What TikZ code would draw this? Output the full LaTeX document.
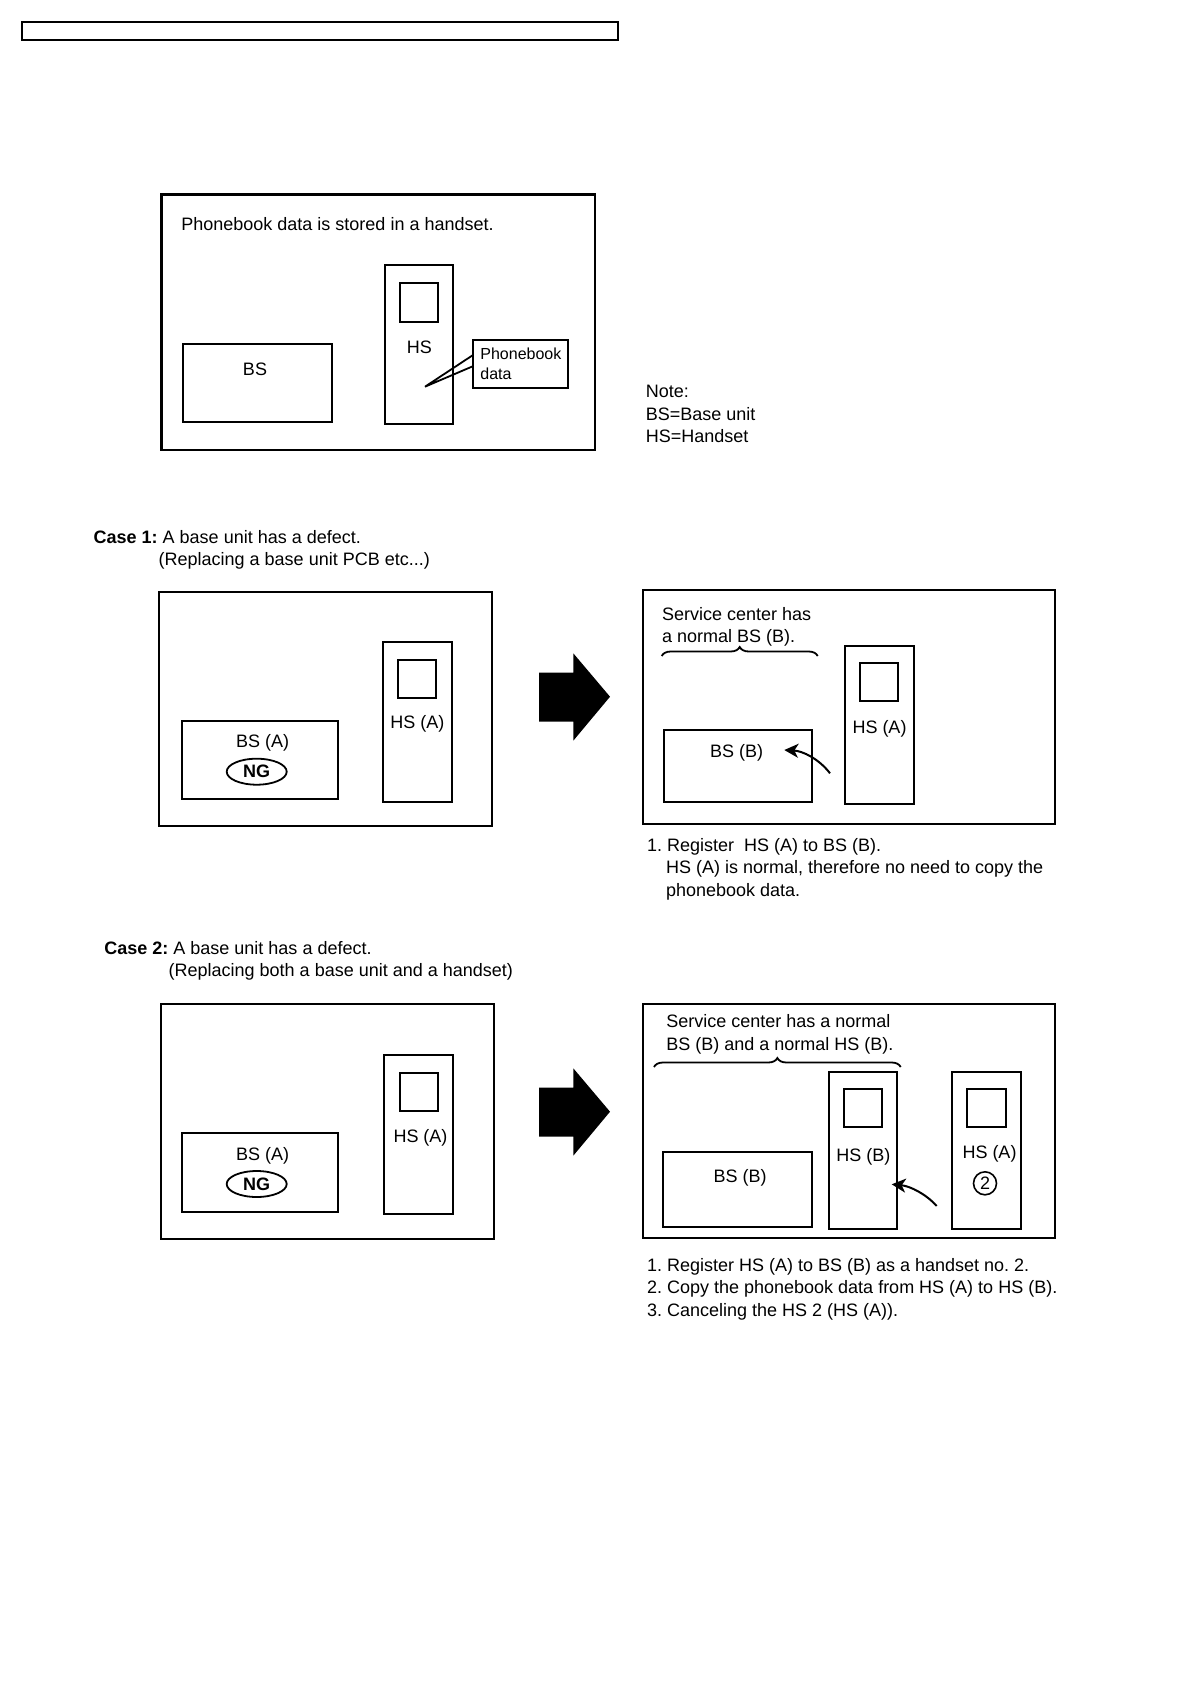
\documentclass[tikz,border=0pt]{standalone}
\usepackage{fontspec}
\setmainfont{Liberation Sans}
\frenchspacing
\usetikzlibrary{fit,shapes.geometric,arrows.meta,decorations.pathreplacing}
\tikzset{
  obox/.style={draw, line width=1.1pt, inner sep=0pt},
  ubox/.style={draw, line width=1pt, inner sep=0pt},
  lbl/.style={inner sep=0pt, font=\fontsize{9}{10.8}\selectfont},
  slbl/.style={inner sep=0pt, font=\fontsize{8}{9.6}\selectfont},
  ngoval/.style={draw, ellipse, line width=0.9pt, minimum width=30pt, minimum height=13pt, inner sep=0pt, font=\fontsize{9}{10.8}\selectfont\bfseries},
  numcirc/.style={draw, circle, line width=0.8pt, minimum size=11.5pt, inner sep=0pt, font=\fontsize{9}{10.8}\selectfont},
  curvarrow/.style={line width=1pt, -{Stealth[length=7pt,width=7pt,inset=2pt]}},
  bracestyle/.style={line width=0.9pt, decorate, decoration={brace, amplitude=4.5pt}},
  blockarrow/.style={fill=black, draw=none}
}
\begin{document}
\begin{tikzpicture}[x=0.5pt,y=-0.5pt]
\useasboundingbox (0,0) rectangle (1190,1684);
\fill[white] (0,0) rectangle (1190,1684);

% header bar
\node[obox, fit={(22,22.3) (618,40.3)}] (bar) {};

% ---------- top diagram ----------
\node[obox, fit={(161.5,194.5) (595,450)}] (top) {};
\node[lbl, anchor=base west] (toptitle) at (181,231) {Phonebook data is stored in a handset.};
\node[ubox, fit={(183.3,344.3) (331.7,422.3)}] (bs0) {};
\node[lbl, anchor=base] (bs0t) at (255,376) {BS};
\node[ubox, fit={(385,265) (453.3,424.3)}] (hs0) {};
\node[ubox, fit={(400,283.3) (437.7,321.7)}] (sc0) {};
\node[lbl, anchor=base] (hs0t) at (419.3,354) {HS};
\node[ubox, fit={(473.3,340) (568.3,388.3)}] (pb) {};
\node[slbl, anchor=base west] (pbt1) at (480,360) {Phonebook};
\node[slbl, anchor=base west] (pbt2) at (480,380) {data};
\coordinate (pbtip) at (425,386.7);
\draw[line width=0.9pt] (pb.west |- 0,355.5) -- (pbtip) -- (pb.west |- 0,366.5);

\node[lbl, anchor=base west] (note1) at (645.5,398) {Note:};
\node[lbl, anchor=base west] (note2) at (645.5,420.6) {BS=Base unit};
\node[lbl, anchor=base west] (note3) at (645.5,443) {HS=Handset};

% ---------- Case 1 ----------
\node[lbl, anchor=base west] (c1t1) at (93.3,543) {\textbf{Case 1:} A base unit has a defect.};
\node[lbl, anchor=base west] (c1t2) at (158.3,565) {(Replacing a base unit PCB etc...)};

\node[obox, fit={(159.3,591.7) (492.3,825.7)}] (c1l) {};
\node[ubox, fit={(181.7,721) (338.3,799)}] (bsA1) {};
\node[lbl, anchor=base] (bsA1t) at (262.7,747.7) {BS (A)};
\node[ngoval] (ng1) at (256.7,771.7) {NG};
\node[ubox, fit={(382.7,642.3) (451.7,801.7)}] (hsA1) {};
\node[ubox, fit={(398,659.7) (436,697.7)}] (scA1) {};
\node[lbl, anchor=base] (hsA1t) at (417.3,728.3) {HS (A)};

\fill[blockarrow] (539,672.7) -- (573.3,672.7) -- (573.3,653.3) -- (610,696.7) -- (573.3,740.7) -- (573.3,721.7) -- (539,721.7) -- cycle;

\node[obox, fit={(642.7,590) (1055,824.3)}] (c1r) {};
\node[lbl, anchor=base west] (c1s1) at (661.7,620.3) {Service center has};
\node[lbl, anchor=base west] (c1s2) at (661.7,642) {a normal BS (B).};
\coordinate (br1a) at (661.7,656);
\coordinate (br1b) at (817.7,656);
\draw[bracestyle] (br1a) -- (br1b);
\node[ubox, fit={(664.3,729.7) (812.3,802.3)}] (bsB1) {};
\node[lbl, anchor=base] (bsB1t) at (736.7,757.7) {BS (B)};
\node[ubox, fit={(845,645.7) (913.7,804.3)}] (hsA1r) {};
\node[ubox, fit={(860,663.3) (898.3,701.3)}] (scA1r) {};
\node[lbl, anchor=base] (hsA1rt) at (879.5,733.7) {HS (A)};
\coordinate (a1s) at (830,773.3);
\coordinate (a1e) at (784.3,750);
\draw[curvarrow] (a1s) .. controls (819,759) and (803,751) .. (a1e);

\node[lbl, anchor=base west] (c1n1) at (646.7,851) {1. Register\ \ HS (A) to BS (B).};
\node[lbl, anchor=base west] (c1n2) at (665.7,873.5) {HS (A) is normal, therefore no need to copy the};
\node[lbl, anchor=base west] (c1n3) at (665.7,896) {phonebook data.};

% ---------- Case 2 ----------
\node[lbl, anchor=base west] (c2t1) at (104,954.3) {\textbf{Case 2:} A base unit has a defect.};
\node[lbl, anchor=base west] (c2t2) at (168.3,976) {(Replacing both a base unit and a handset)};

\node[obox, fit={(160.7,1004) (494.3,1239)}] (c2l) {};
\node[ubox, fit={(181.7,1133.3) (338.3,1211.7)}] (bsA2) {};
\node[lbl, anchor=base] (bsA2t) at (262.7,1160) {BS (A)};
\node[ngoval] (ng2) at (256.7,1184) {NG};
\node[ubox, fit={(384.3,1055) (453.3,1214.3)}] (hsA2) {};
\node[ubox, fit={(400,1072.7) (438.3,1110.7)}] (scA2) {};
\node[lbl, anchor=base] (hsA2t) at (420.5,1142) {HS (A)};

\fill[blockarrow] (539,1087.7) -- (573.3,1087.7) -- (573.3,1068.3) -- (610,1111.7) -- (573.3,1155.7) -- (573.3,1136.7) -- (539,1136.7) -- cycle;

\node[obox, fit={(642.7,1004.3) (1055,1238)}] (c2r) {};
\node[lbl, anchor=base west] (c2s1) at (666,1027.7) {Service center has a normal};
\node[lbl, anchor=base west] (c2s2) at (666,1050) {BS (B) and a normal HS (B).};
\coordinate (br2a) at (654,1067);
\coordinate (br2b) at (900.7,1067);
\draw[bracestyle] (br2a) -- (br2b);
\node[ubox, fit={(663.3,1152.3) (812.3,1227.3)}] (bsB2) {};
\node[lbl, anchor=base] (bsB2t) at (740,1182.7) {BS (B)};
\node[ubox, fit={(829,1071.7) (897.3,1229.3)}] (hsB2) {};
\node[ubox, fit={(844,1089) (882.3,1126.7)}] (scB2) {};
\node[lbl, anchor=base] (hsB2t) at (863.3,1161) {HS (B)};
\node[ubox, fit={(952.3,1071.7) (1021,1229.3)}] (hsA2r) {};
\node[ubox, fit={(967.3,1089) (1005.7,1126.7)}] (scA2r) {};
\node[lbl, anchor=base] (hsA2rt) at (989.5,1158.7) {HS (A)};
\node[numcirc] (two) at (985,1183.3) {2};
\coordinate (a2s) at (936.7,1206);
\coordinate (a2e) at (891.7,1184.3);
\draw[curvarrow] (a2s) .. controls (926,1194) and (910,1186) .. (a2e);

\node[lbl, anchor=base west] (c2n1) at (646.7,1271) {1. Register HS (A) to BS (B) as a handset no. 2.};
\node[lbl, anchor=base west] (c2n2) at (646.7,1293.5) {2. Copy the phonebook data from HS (A) to HS (B).};
\node[lbl, anchor=base west] (c2n3) at (646.7,1316) {3. Canceling the HS 2 (HS (A)).};
\end{tikzpicture}
\end{document}
